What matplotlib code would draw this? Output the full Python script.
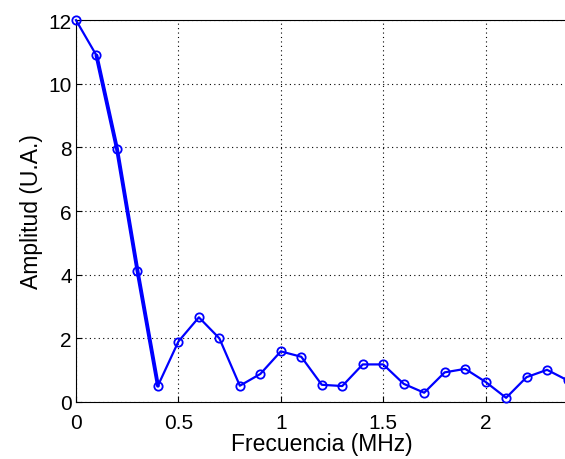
import matplotlib
matplotlib.use("Agg")
import matplotlib.pyplot as plt

# spectrum amplitude sampled every 0.1 MHz
freq = [0.0, 0.1, 0.2, 0.3, 0.4, 0.5, 0.6, 0.7, 0.8, 0.9, 1.0, 1.1, 1.2,
        1.3, 1.4, 1.5, 1.6, 1.7, 1.8, 1.9, 2.0, 2.1, 2.2, 2.3, 2.4]
amp = [12.0, 10.89, 7.96, 4.13, 0.51, 1.90, 2.66, 2.00, 0.51, 0.88, 1.59,
       1.42, 0.54, 0.50, 1.18, 1.18, 0.57, 0.29, 0.93, 1.04, 0.63, 0.13,
       0.78, 1.01, 0.68]
xticks = [0, 0.5, 1, 1.5, 2]
xticklabels = ['0', '0.5', '1', '1.5', '2']
yticks = [0, 2, 4, 6, 8, 10, 12]

plt.rcParams['font.family'] = ['Liberation Sans', 'DejaVu Sans']

fig = plt.figure(figsize=(5.65, 4.6), dpi=100)
ax = fig.add_axes([0.1345, 0.124, 0.87, 0.83])

# the steep drop is drawn a bit heavier
ax.plot(freq[1:5], amp[1:5], color='#0000ff', lw=2.8, zorder=3,
        solid_capstyle='round')
ax.plot(freq, amp, color='#0000ff', lw=1.6, marker='o', ms=6,
        mfc='none', mec='#0000ff', mew=1.3, clip_on=False, zorder=4)

ax.set_xlim(0, 2.4)
ax.set_ylim(0, 12)
ax.set_xticks(xticks)
ax.set_xticklabels(xticklabels)
ax.set_yticks(yticks)
ax.tick_params(direction='in', labelsize=15, length=4, width=0.8, pad=3)
ax.tick_params(axis='x', pad=8)
ax.grid(True, color='black', linestyle=(0, (1, 3)), linewidth=0.8)
ax.set_axisbelow(True)
ax.spines['right'].set_visible(False)

ax.set_xlabel('Frecuencia (MHz)', fontsize=16.5, labelpad=0)
ax.set_ylabel('Amplitud (U.A.)', fontsize=16.5, labelpad=4)

fig.savefig('out.png', dpi=100)
